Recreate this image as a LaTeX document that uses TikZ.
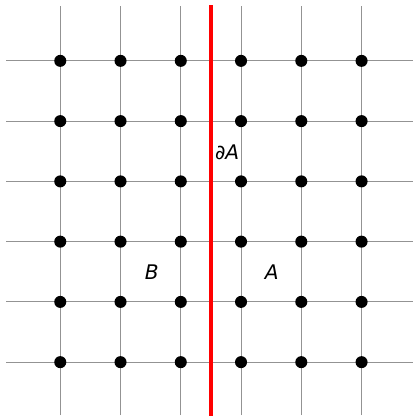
\documentclass[tikz,border=0pt]{standalone}
\usepackage{fontspec}
\setmainfont{DejaVu Sans}
\usetikzlibrary{positioning}
\tikzset{
    gridline/.style={gray!85, line width=0.45pt},
    vertexdot/.style={circle, fill=black, inner sep=0pt, minimum size=0.2cm},
    cutline/.style={red, line width=1.9pt},
    setlabel/.style={font=\fontsize{9.5}{11}\selectfont\itshape}
}

\begin{document}
\begin{tikzpicture}
\useasboundingbox (0,0.09) rectangle (6.86,7.01);
% lattice
\foreach \i in {1,...,6} {
    \draw[gridline] (\i,0.12) -- (\i,6.91);
    \draw[gridline] (0.1,\i) -- (6.86,\i);
}
\foreach \i in {1,...,6}
    \foreach \j in {1,...,6}
        \node[vertexdot] (v-\i-\j) at (\i,\j) {};
% boundary
\coordinate (cuttop) at (3.5,6.92);
\coordinate (cutbot) at (3.5,0.1);
\draw[cutline] (cuttop) -- (cutbot);
\node[setlabel] (bdry) at (3.77,4.49) {∂A};
\node[setlabel] (setB) at (2.52,2.5) {B};
\node[setlabel] (setA) at (4.51,2.5) {A};
\end{tikzpicture}
\end{document}
